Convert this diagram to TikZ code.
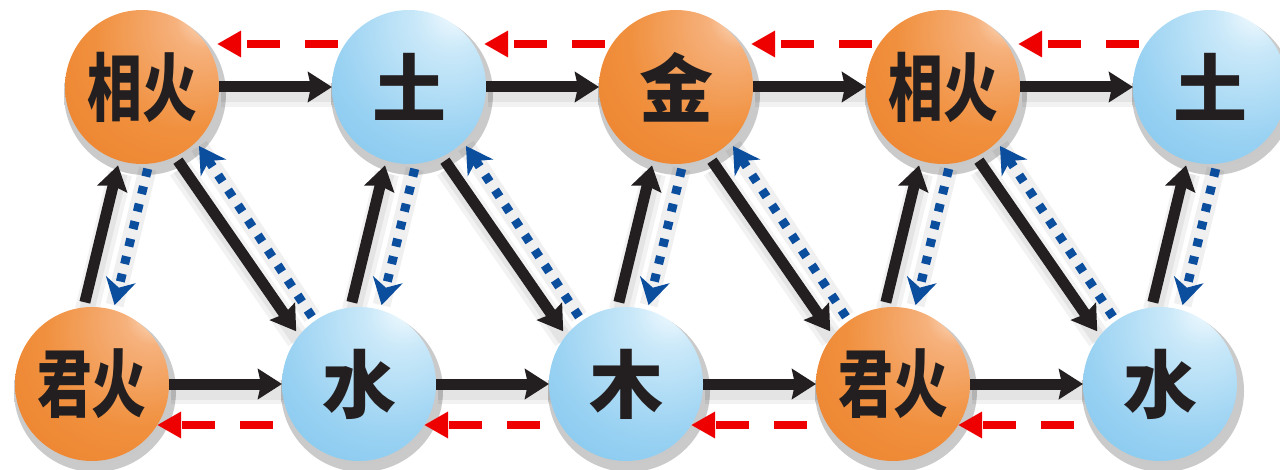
\documentclass[tikz,border=0pt]{standalone}
\usepackage{fontspec}
\newfontfamily\cjk{Noto Sans CJK SC}
\usetikzlibrary{arrows.meta,calc}

% palette
\definecolor{arrowblack}{HTML}{231F20}
\definecolor{dotblue}{HTML}{0C4E9E}
\definecolor{dashred}{HTML}{EE0000}
\definecolor{orA}{HTML}{FCE4D0}
\definecolor{orB}{HTML}{F6B17C}
\definecolor{orC}{HTML}{F0903E}
\definecolor{orD}{HTML}{EB7B24}
\definecolor{orE}{HTML}{E26A14}
\definecolor{blA}{HTML}{F6FCFF}
\definecolor{blB}{HTML}{CBE9F9}
\definecolor{blC}{HTML}{98D1F2}
\definecolor{blD}{HTML}{72BFEB}
\definecolor{blE}{HTML}{5CAFE3}

% sphere shadings, highlight toward the upper right
\pgfdeclareradialshading{orangeball}{\pgfpoint{22bp}{24bp}}{%
  color(0bp)=(orA); color(9bp)=(orB); color(30bp)=(orC); color(60bp)=(orD); color(90bp)=(orE)}
\pgfdeclareradialshading{blueball}{\pgfpoint{16bp}{26bp}}{%
  color(0bp)=(blA); color(11bp)=(blB); color(34bp)=(blC); color(62bp)=(blD); color(90bp)=(blE)}
\pgfdeclareradialshading{ballshadow}{\pgfpoint{0bp}{0bp}}{%
  color(0bp)=(black!22); color(44bp)=(black!20); color(47bp)=(black!9); color(50bp)=(white)}

\pgfdeclarelayer{bg}
\pgfsetlayers{bg,main}

\begin{document}
\begin{tikzpicture}[x=1pt,y=1pt,
  orb/.style={circle, minimum size=154pt, inner sep=0pt, outer sep=5pt,
    font=\cjk\bfseries\fontsize{74}{74}\selectfont, text=arrowblack},
  orangeorb/.style={orb, shading=orangeball},
  blueorb/.style={orb, shading=blueball},
  shadowed/.style={
    preaction={draw=black, draw opacity=0.05, line width=24pt, solid, arrows=-,
      transform canvas={shift={(2pt,-8pt)}}},
    preaction={draw=black, draw opacity=0.06, line width=15pt, solid, arrows=-,
      transform canvas={shift={(2pt,-8pt)}}}},
  flow/.style={shadowed, draw=arrowblack, line width=11pt,
    -{Stealth[length=24pt, width=30pt, inset=3pt]}},
  flat/.style={shorten <=-5pt, shorten >=-5pt},
  back/.style={preaction={draw=black, draw opacity=0.06, line width=18pt, solid, arrows=-},
    draw=dotblue, line width=9pt, dash pattern=on 8pt off 10pt,
    -{Stealth[length=26pt, width=30pt, inset=8pt]}},
  feedback/.style={draw=dashred, line width=8pt, dash pattern=on 33pt off 25pt,
    -{Triangle[length=24pt, width=25pt]}}
]
\useasboundingbox (0,0) rectangle (1280,469);

% upper row
\node[orangeorb] (T0) at (142,382) {\scalebox{0.74}[1]{相火}};
\node[blueorb]   (T1) at (409,382) {土};
\node[orangeorb] (T2) at (676,382) {金};
\node[orangeorb] (T3) at (943,382) {\scalebox{0.74}[1]{相火}};
\node[blueorb]   (T4) at (1210,382) {土};

% lower row
\node[orangeorb] (B0) at (92,85)  {\scalebox{0.74}[1]{君火}};
\node[blueorb]   (B1) at (359,85) {水};
\node[blueorb]   (B2) at (626,85) {木};
\node[orangeorb] (B3) at (893,85) {\scalebox{0.74}[1]{君火}};
\node[blueorb]   (B4) at (1160,85) {水};

\begin{pgfonlayer}{bg}
  % soft shadows under the spheres
  \foreach \n in {T0,T1,T2,T3,T4,B0,B1,B2,B3,B4}
    \shade[shading=ballshadow] ($(\n.center)+(3,-7)$) circle (81);

  % forward flow along each row
  \foreach \a/\b in {T0/T1,T1/T2,T2/T3,T3/T4,B0/B1,B1/B2,B2/B3,B3/B4}
    \draw[flow, flat] (\a.east) -- (\b.west);

  % red dashed returns along each row
  \foreach \a/\b in {T0/T1,T1/T2,T2/T3,T3/T4}
    \draw[feedback] ($(\b.center)+(-71,43)$) -- ($(\a.center)+(75,43)$);
  \foreach \a/\b in {B0/B1,B1/B2,B2/B3,B3/B4}
    \draw[feedback, dash phase=37pt] ($(\b.center)+(-65,-41)$) -- ($(\a.center)+(65,-41)$);

  % rising links and their dotted returns
  \foreach \i in {0,...,4} {
    \draw[flow] (B\i.95) -- (T\i.253);
    \draw[back] (T\i.274) -- (B\i.74);
  }
  % falling links and their dotted returns
  \foreach \i/\j in {0/1,1/2,2/3,3/4} {
    \draw[flow] (T\i.296) -- (B\j.140);
    \draw[back] (B\j.125) -- (T\i.314);
  }
\end{pgfonlayer}
\end{tikzpicture}
\end{document}
